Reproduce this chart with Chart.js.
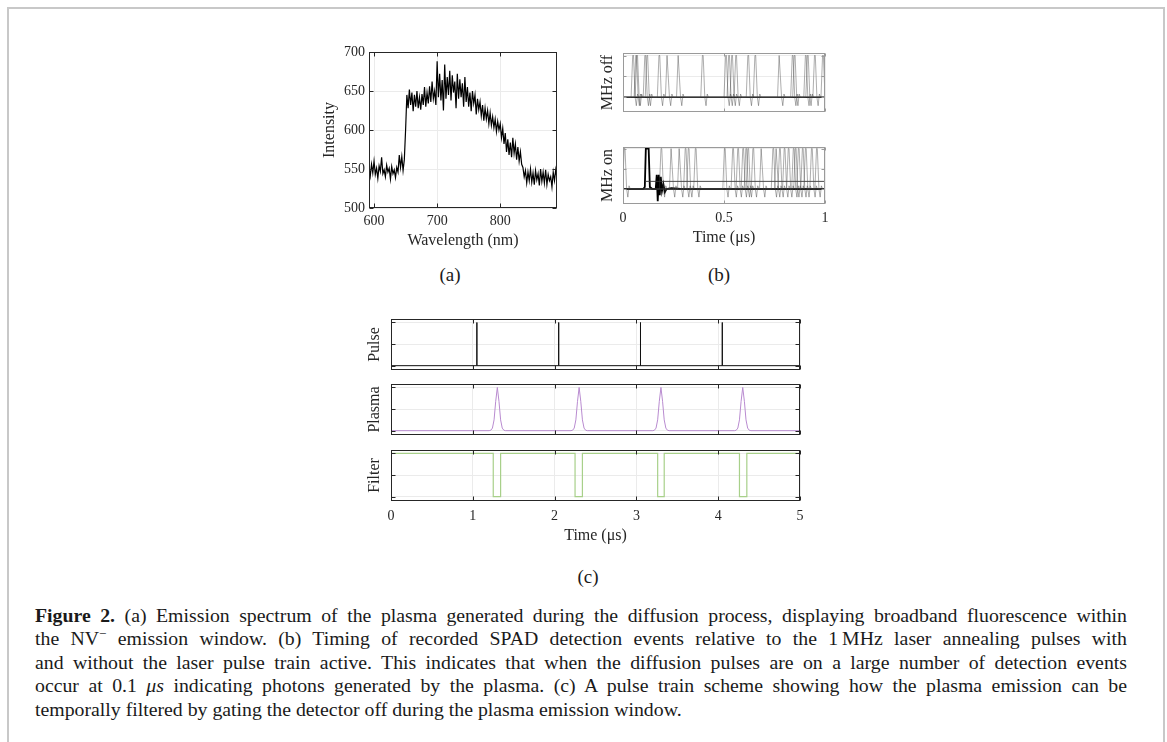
<!DOCTYPE html>
<html>
<head>
<meta charset="utf-8">
<script src="https://cdn.jsdelivr.net/npm/chart.js@4"></script>
<style>
  body { margin: 0; background: #fff; width: 1167px; height: 742px; overflow: hidden; position: relative; font-family: 'Liberation Serif', 'Times New Roman', serif; color: #1a1a1a; }
  .frame { position: absolute; left: 7px; top: 7px; width: 1154px; height: 760px; border: 2px solid #c8c8c8; border-bottom: none; }
  .panel { position: absolute; }
  .sub { position: absolute; font-size: 19px; transform: translateX(-50%); }
  .caption { position: absolute; left: 35px; top: 604px; width: 1092px; font-size: 19.8px; line-height: 23.4px; }
  .caption div { text-align: justify; text-align-last: justify; white-space: nowrap; }
  .caption div.last { text-align-last: left; }
</style>
</head>
<body>
<div class="frame"></div>

<div class="panel" style="left:300px;top:40px;width:262px;height:220px"><canvas id="spectrum"></canvas></div>
<div class="panel" style="left:590px;top:45px;width:240px;height:70px"><canvas id="mhzOff"></canvas></div>
<div class="panel" style="left:590px;top:139px;width:240px;height:111px"><canvas id="mhzOn"></canvas></div>
<div class="panel" style="left:355px;top:312px;width:450px;height:60px"><canvas id="pulse"></canvas></div>
<div class="panel" style="left:355px;top:377px;width:450px;height:60px"><canvas id="plasma"></canvas></div>
<div class="panel" style="left:355px;top:443px;width:450px;height:105px"><canvas id="filter"></canvas></div>

<div class="sub" style="left:450px;top:264px">(a)</div>
<div class="sub" style="left:719px;top:264px">(b)</div>
<div class="sub" style="left:588px;top:566px">(c)</div>

<div class="caption">
  <div><b>Figure 2.</b> (a) Emission spectrum of the plasma generated during the diffusion process, displaying broadband fluorescence within</div>
  <div>the NV<sup style="font-size:13px;vertical-align:7px;line-height:0">&minus;</sup> emission window. (b) Timing of recorded SPAD detection events relative to the 1&#8201;MHz laser annealing pulses with</div>
  <div>and without the laser pulse train active. This indicates that when the diffusion pulses are on a large number of detection events</div>
  <div>occur at 0.1 <i>&mu;s</i> indicating photons generated by the plasma. (c) A pulse train scheme showing how the plasma emission can be</div>
  <div class="last">temporally filtered by gating the detector off during the plasma emission window.</div>
</div>

<script>
// (a) emission spectrum, 2 nm steps from 592 nm
const wavelengthStart = 592;
const wavelengthStep = 2;
const intensity = [
  552, 541, 556, 545, 560, 543, 551, 538, 554, 547, 565, 544, 549, 540, 555, 546, 551, 537, 553, 544, 549, 539, 552, 546,
  568, 552, 566, 548, 562,
  600, 645, 628, 652, 632, 648, 624, 645, 630, 650, 628, 642, 626, 646, 632, 655, 630, 648, 634, 656, 636, 662, 640, 650, 632,
  688, 642, 672, 638, 664, 625, 684, 640, 668, 645, 676, 638, 670, 648, 662, 628, 672, 640, 665, 642, 660, 630, 668, 636, 655,
  630, 648, 624, 650, 634, 645, 620, 640, 626, 636, 618, 632, 612, 628, 614, 625, 608, 622, 606, 617, 603, 614, 598, 611, 600,
  608, 590, 602, 582, 596, 572, 588, 568, 584, 565, 590, 570, 582, 562, 578, 560, 572, 556, 552, 540, 548, 532, 546, 535, 550,
  533, 545, 530, 548, 536, 544, 529, 550, 534, 546, 532, 549, 530, 543, 535, 540, 527, 546, 535, 549, 538
];
const spectrumXTicks = [600, 700, 800];
const spectrumYTicks = [500, 550, 600, 650, 700];

// (b) detection traces: spike times (us) per recorded trace
const spikeOffsets = [-0.01, -0.002, 0.002, 0.01, 0.016, 0.022, 0.028];
const spikeValues = [0, 1, 1, 0, -0.2, 0.08, 0];
const offTraceA = [0.05, 0.11, 0.18, 0.275, 0.395, 0.51, 0.56, 0.62, 0.775, 0.84, 0.905, 0.99];
const offTraceB = [0.065, 0.12, 0.22, 0.525, 0.655, 0.85, 0.95];
const offTraceC = [0.07, 0.54, 0.915];
const onTraceA = [0.008, 0.19, 0.28, 0.36, 0.504, 0.57, 0.61, 0.686, 0.777, 0.82, 0.87, 0.96];
const onTraceB = [0.24, 0.31, 0.545, 0.595, 0.645, 0.744, 0.8, 0.845, 0.89, 0.935];
const onTraceC = [0.325, 0.62, 0.76, 0.855, 0.905];
const onBurstT = [0, 0.1, 0.108, 0.113, 0.127, 0.133, 0.145, 0.162, 0.167, 0.172, 0.177, 0.182, 0.187, 0.193, 0.2, 0.207, 0.215, 0.24, 0.3, 1];
const onBurstY = [0, 0, 0.05, 1, 1, 0.05, 0, 0, 0.35, -0.3, 0.35, -0.15, 0.3, -0.05, 0.12, -0.08, 0, 0.02, 0, 0];
const onLevel = 0.19;
const timeTicksB = [0, 0.5, 1];
const levelTicks = [0, 0.5, 1];

// (c) pulse train scheme
const pulseTimes = [1.05, 2.05, 3.05, 4.05];
const plasmaCenters = [1.3, 2.3, 3.3, 4.3];
const plasmaOffsets = [-0.1, -0.08, -0.06, -0.04, -0.02, 0, 0.02, 0.04, 0.06, 0.08, 0.1];
const plasmaShape = [0, 0.01, 0.06, 0.25, 0.68, 1, 0.68, 0.25, 0.06, 0.01, 0];
const filterGates = [[1.25, 1.34], [2.25, 2.34], [3.26, 3.34], [4.26, 4.35]];
const timeTicksC = [0, 1, 2, 3, 4, 5];

Chart.defaults.font.family = "'Liberation Serif', 'Times New Roman', serif";
Chart.defaults.color = '#262626';
Chart.defaults.animation = false;

// matlab style box with inward ticks on all four sides
const boxPlugin = {
  id: 'box',
  afterDatasetsDraw(chart, args, opts) {
    const {ctx, chartArea: a, scales} = chart;
    const L = Math.round(a.left) + 0.5, R = Math.round(a.right) - 0.5;
    const T = Math.round(a.top) + 0.5, B = Math.round(a.bottom) - 0.5;
    ctx.save();
    ctx.strokeStyle = opts.color || '#262626';
    ctx.lineWidth = 1;
    ctx.strokeRect(L, T, R - L, B - T);
    const len = opts.tick || 4;
    ctx.beginPath();
    scales.x.ticks.forEach(t => {
      const px = Math.round(scales.x.getPixelForValue(t.value)) + 0.5;
      ctx.moveTo(px, B); ctx.lineTo(px, B - len);
      ctx.moveTo(px, T); ctx.lineTo(px, T + len);
    });
    scales.y.ticks.forEach(t => {
      const py = Math.round(scales.y.getPixelForValue(t.value)) + 0.5;
      ctx.moveTo(L, py); ctx.lineTo(L + len, py);
      ctx.moveTo(R, py); ctx.lineTo(R - len, py);
    });
    ctx.stroke();
    ctx.restore();
  }
};

function panel(id, datasets, s) {
  return new Chart(document.getElementById(id), {
    type: 'line',
    data: { datasets },
    options: {
      responsive: true,
      maintainAspectRatio: false,
      layout: { padding: { top: s.padTop, right: s.padRight, left: 0, bottom: 0 } },
      elements: { point: { radius: 0 }, line: { tension: 0 } },
      plugins: { legend: { display: false }, tooltip: { enabled: false }, box: { color: s.boxColor, tick: s.tickLen } },
      scales: {
        x: {
          type: 'linear', min: s.xMin, max: s.xMax,
          afterBuildTicks: sc => { sc.ticks = s.xTicks.map(v => ({ value: v })); },
          afterFit: sc => { sc.height = s.xHeight; sc.paddingLeft = 0; sc.paddingRight = 0; },
          grid: { color: '#ebebeb', drawTicks: false },
          border: { display: false },
          ticks: { display: !!s.xTitle, padding: s.xTickPad || 5, font: { size: 14 }, maxRotation: 0, callback: v => String(v) },
          title: { display: !!s.xTitle, text: s.xTitle, font: { size: 16 }, padding: { top: 0, bottom: s.xTitlePad || 0 } }
        },
        y: {
          min: s.yMin, max: s.yMax,
          afterBuildTicks: sc => { sc.ticks = s.yTicks.map(v => ({ value: v })); },
          afterFit: sc => { sc.width = s.yWidth; sc.paddingTop = 0; sc.paddingBottom = 0; },
          grid: { color: '#ebebeb', drawTicks: false },
          border: { display: false },
          ticks: { display: !!s.yLabels, padding: 4, font: { size: 14 }, callback: v => String(v) },
          title: { display: true, text: s.yTitle, font: { size: 16 }, padding: { top: s.yTitlePad, bottom: 0 } }
        }
      }
    },
    plugins: [boxPlugin]
  });
}

function line(points, color, width) {
  return { data: points, borderColor: color, borderWidth: width, fill: false };
}

function spikeTrace(times) {
  const pts = [{ x: -0.05, y: 0 }];
  times.forEach(t => spikeOffsets.forEach((o, i) => pts.push({ x: t + o, y: spikeValues[i] })));
  pts.push({ x: 1.05, y: 0 });
  return pts;
}

// (a)
panel('spectrum', [
  line(intensity.map((v, i) => ({ x: wavelengthStart + i * wavelengthStep, y: v })), '#000', 1.2)
], {
  xMin: 592, xMax: 890, xTicks: spectrumXTicks, yMin: 500, yMax: 700, yTicks: spectrumYTicks,
  xTitle: 'Wavelength (nm)', yTitle: 'Intensity', yLabels: true,
  padTop: 12, padRight: 5, yWidth: 69, xHeight: 52, xTickPad: 5, xTitlePad: 10, yTitlePad: 20, tickLen: 4
});

// (b)
const grey = 'rgba(70,70,70,0.55)';
panel('mhzOff', [
  line(spikeTrace(offTraceA), grey, 0.8),
  line(spikeTrace(offTraceB), grey, 0.8),
  line(spikeTrace(offTraceC), grey, 0.8),
  line([{ x: 0, y: 0 }, { x: 1, y: 0 }], '#111', 1.5)
], {
  xMin: 0, xMax: 1, xTicks: timeTicksB, yMin: -0.35, yMax: 1.06, yTicks: levelTicks,
  yTitle: 'MHz off', padTop: 8, padRight: 5, yWidth: 33, xHeight: 3, yTitlePad: 8, boxColor: '#9a9a9a', tickLen: 3
});

panel('mhzOn', [
  line(spikeTrace(onTraceA), grey, 0.8),
  line(spikeTrace(onTraceB), grey, 0.8),
  line(spikeTrace(onTraceC), grey, 0.8),
  line([{ x: 0.11, y: onLevel }, { x: 1, y: onLevel }], '#333', 0.9),
  line([{ x: 0, y: 0 }, { x: 1, y: 0 }], '#111', 1.5),
  line(onBurstT.map((t, i) => ({ x: t, y: onBurstY[i] })), '#000', 1.8)
], {
  xMin: 0, xMax: 1, xTicks: timeTicksB, yMin: -0.37, yMax: 1.04, yTicks: levelTicks,
  yTitle: 'MHz on', xTitle: 'Time (\u03bcs)', padTop: 8, padRight: 5, yWidth: 33, xHeight: 46,
  xTickPad: 6, xTitlePad: 3, yTitlePad: 8, boxColor: '#9a9a9a', tickLen: 3
});

// (c)
const pulsePts = [{ x: 0, y: 0 }];
pulseTimes.forEach(t => { pulsePts.push({ x: t, y: 0 }, { x: t, y: 1 }, { x: t, y: 0 }); });
pulsePts.push({ x: 5, y: 0 });

const plasmaPts = [{ x: 0, y: 0 }];
plasmaCenters.forEach(c => plasmaOffsets.forEach((o, i) => plasmaPts.push({ x: c + o, y: plasmaShape[i] })));
plasmaPts.push({ x: 5, y: 0 });

const filterPts = [{ x: 0, y: 1 }];
filterGates.forEach(([a, b]) => { filterPts.push({ x: a, y: 1 }, { x: a, y: 0 }, { x: b, y: 0 }, { x: b, y: 1 }); });
filterPts.push({ x: 5, y: 1 });

const cSpec = { xMin: 0, xMax: 5, xTicks: timeTicksC, yMin: -0.1, yMax: 1.08, yTicks: levelTicks,
  padTop: 7, padRight: 5, yWidth: 36, xHeight: 2, yTitlePad: 10, tickLen: 4 };

panel('pulse', [line(pulsePts, '#111', 1)], Object.assign({}, cSpec, { yTitle: 'Pulse' }));
panel('plasma', [line(plasmaPts, '#b98bd0', 1)], Object.assign({}, cSpec, { yTitle: 'Plasma' }));
panel('filter', [line(filterPts, '#a8d08a', 1.2)], Object.assign({}, cSpec, {
  yTitle: 'Filter', xTitle: 'Time (\u03bcs)', xHeight: 47, xTickPad: 7, xTitlePad: 3 }));
</script>
</body>
</html>
